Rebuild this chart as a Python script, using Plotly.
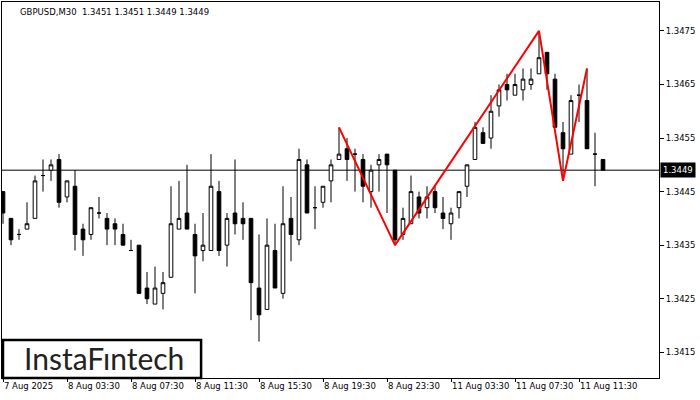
import plotly.graph_objects as go

# ---- data ----
bar_index = list(range(76))
opens = [1.3445, 1.3440, 1.3437, 1.3438, 1.3440, 1.3448, 1.3449, 1.3451, 1.3444, 1.3446,
         1.3438, 1.3437, 1.3441, 1.3440, 1.3439, 1.3437, 1.3434, 1.3435, 1.3427, 1.3424,
         1.3426, 1.3429, 1.3438, 1.3441, 1.3437, 1.3434, 1.3434, 1.3445, 1.3435, 1.3441,
         1.3440, 1.3440, 1.3427, 1.3423, 1.3434, 1.3426, 1.3440, 1.3436, 1.3450, 1.3442,
         1.3443, 1.3447, 1.3451, 1.3453, 1.3452, 1.3451, 1.3445, 1.3450, 1.3452, 1.3449,
         1.3437, 1.3439, 1.3444, 1.3442, 1.3445, 1.3441, 1.3439, 1.3442, 1.3446, 1.3451,
         1.3456, 1.3455, 1.3461, 1.3465, 1.3463, 1.3464, 1.3465, 1.3467, 1.3471, 1.3466,
         1.3456, 1.3452, 1.3463, 1.3462, 1.3452, 1.3451]
highs = [1.3445, 1.3440, 1.3438, 1.3443, 1.3448, 1.3451, 1.3451, 1.3452, 1.3447, 1.3449,
         1.3439, 1.3442, 1.3444, 1.3441, 1.3440, 1.3439, 1.3436, 1.3435, 1.3430, 1.3431,
         1.3430, 1.3446, 1.3447, 1.3450, 1.3439, 1.3441, 1.3452, 1.3447, 1.3441, 1.3451,
         1.3443, 1.3440, 1.3437, 1.3440, 1.3439, 1.3446, 1.3444, 1.3453, 1.3451, 1.3446,
         1.3446, 1.3451, 1.3457, 1.3455, 1.3453, 1.3452, 1.3450, 1.3452, 1.3452, 1.3449,
         1.3442, 1.3448, 1.3445, 1.3446, 1.3446, 1.3444, 1.3442, 1.3445, 1.3450, 1.3458,
         1.3457, 1.3463, 1.3465, 1.3467, 1.3467, 1.3468, 1.3468, 1.3475, 1.3471, 1.3467,
         1.3458, 1.3463, 1.3465, 1.3468, 1.3456, 1.3451]
lows = [1.3439, 1.3435, 1.3436, 1.3438, 1.3440, 1.3445, 1.3447, 1.3442, 1.3443, 1.3434,
        1.3433, 1.3436, 1.3440, 1.3435, 1.3435, 1.3435, 1.3434, 1.3426, 1.3424, 1.3424,
        1.3423, 1.3429, 1.3438, 1.3438, 1.3426, 1.3432, 1.3434, 1.3433, 1.3431, 1.3437,
        1.3436, 1.3421, 1.3417, 1.3423, 1.3427, 1.3425, 1.3432, 1.3435, 1.3441, 1.3438,
        1.3442, 1.3443, 1.3451, 1.3447, 1.3445, 1.3443, 1.3442, 1.3445, 1.3441, 1.3435,
        1.3436, 1.3439, 1.3440, 1.3440, 1.3441, 1.3438, 1.3436, 1.3440, 1.3444, 1.3451,
        1.3454, 1.3453, 1.3459, 1.3462, 1.3463, 1.3462, 1.3464, 1.3467, 1.3464, 1.3457,
        1.3447, 1.3452, 1.3458, 1.3453, 1.3446, 1.3449]
closes = [1.3441, 1.3436, 1.3437, 1.3439, 1.3447, 1.3448, 1.3450, 1.3443, 1.3447, 1.3437,
          1.3436, 1.3442, 1.3441, 1.3438, 1.3438, 1.3435, 1.3434, 1.3426, 1.3425, 1.3427,
          1.3428, 1.3439, 1.3440, 1.3438, 1.3433, 1.3435, 1.3446, 1.3434, 1.3440, 1.3439,
          1.3439, 1.3428, 1.3422, 1.3435, 1.3427, 1.3439, 1.3437, 1.3451, 1.3441, 1.3442,
          1.3446, 1.3450, 1.3452, 1.3451, 1.3452, 1.3446, 1.3449, 1.3451, 1.3450, 1.3436,
          1.3440, 1.3445, 1.3441, 1.3444, 1.3442, 1.3440, 1.3441, 1.3445, 1.3450, 1.3457,
          1.3454, 1.3460, 1.3464, 1.3464, 1.3465, 1.3466, 1.3466, 1.3470, 1.3467, 1.3457,
          1.3453, 1.3462, 1.3463, 1.3453, 1.3452, 1.3449]

pattern_index = [42, 49, 67, 70, 73]
pattern_price = [1.3457, 1.3435, 1.3475, 1.3447, 1.3468]

x_tick_index = [0, 8, 16, 24, 32, 40, 48, 56, 64, 72]
x_tick_text = ["7 Aug 2025", "8 Aug 03:30", "8 Aug 07:30", "8 Aug 11:30", "8 Aug 15:30",
               "8 Aug 19:30", "8 Aug 23:30", "11 Aug 03:30", "11 Aug 07:30", "11 Aug 11:30"]
y_ticks = [1.3415, 1.3425, 1.3435, 1.3445, 1.3455, 1.3465, 1.3475]

title_text = "GBPUSD,M30  1.3451 1.3451 1.3449 1.3449"
logo_text = "InstaF\u0131ntech"

last_price = closes[-1]

FONT = "DejaVu Sans"

fig = go.Figure()
fig.add_trace(go.Candlestick(
    x=bar_index, open=opens, high=highs, low=lows, close=closes,
    increasing=dict(line=dict(color="black", width=1), fillcolor="white"),
    decreasing=dict(line=dict(color="black", width=1), fillcolor="black"),
    whiskerwidth=0, hoverinfo="skip", showlegend=False,
))
fig.add_trace(go.Scatter(
    x=pattern_index, y=pattern_price, mode="lines",
    line=dict(color="#ff0000", width=2), hoverinfo="skip", showlegend=False,
))

fig.add_shape(type="line", xref="paper", x0=0, x1=1, yref="y", y0=last_price, y1=last_price,
              line=dict(color="black", width=1), layer="below")

fig.add_annotation(xref="paper", x=1, xanchor="left", xshift=1, yref="y", y=last_price,
                   text=f"{last_price:.4f}", showarrow=False, bgcolor="black",
                   font=dict(family=FONT, size=8.5, color="white"), borderpad=2)

fig.add_annotation(xref="paper", yref="paper", x=0, y=1, xshift=16, yshift=-3,
                   xanchor="left", yanchor="top", text=title_text, showarrow=False,
                   font=dict(family=FONT, size=8.5, color="black"))

# logo box
fig.add_shape(type="rect", xref="paper", yref="paper",
              x0=0.0015, x1=0.303, y0=0.0, y1=0.101,
              line=dict(color="black", width=2.5), fillcolor="white", layer="above")
fig.add_annotation(xref="paper", yref="paper", x=0.155, y=0.053, xanchor="center", yanchor="middle",
                   text=logo_text, showarrow=False,
                   font=dict(family="Lato", size=30, color="#222222"))

fig.update_layout(
    width=700, height=400,
    margin=dict(l=2, r=41, t=2, b=22, autoexpand=False),
    paper_bgcolor="white", plot_bgcolor="white",
    boxgap=0.35,
    font=dict(family=FONT, size=8.5, color="black"),
)
fig.update_xaxes(
    range=[-0.125, 82.0], rangeslider=dict(visible=False), automargin=False,
    tickmode="array", tickvals=x_tick_index, ticktext=x_tick_text, tickangle=0,
    ticks="outside", ticklen=3, tickcolor="black", ticklabelposition="outside right",
    showgrid=False, zeroline=False, showline=True, linecolor="black", linewidth=1, mirror=True,
    tickfont=dict(family=FONT, size=8.5, color="black"),
)
fig.update_yaxes(
    range=[1.34102, 1.34804], side="right", automargin=False,
    tickmode="array", tickvals=y_ticks, ticktext=[f"{v:.4f}" for v in y_ticks],
    ticks="outside", ticklen=4, tickcolor="black",
    showgrid=False, zeroline=False, showline=True, linecolor="black", linewidth=1, mirror=True,
    tickfont=dict(family=FONT, size=8.5, color="black"),
)

fig.write_html("out.html", config={"displayModeBar": False},
               post_script="document.body.style.margin='0';document.body.style.overflow='hidden';")
